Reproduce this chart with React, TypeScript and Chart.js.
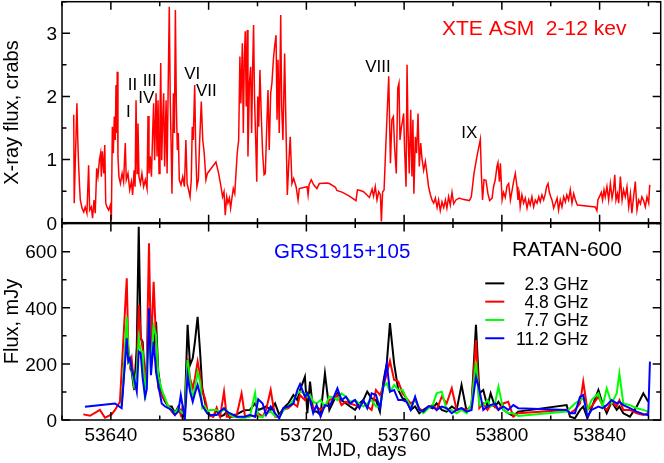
import React, { useEffect, useRef } from "react";
import { Chart, registerables } from "chart.js";

Chart.register(...registerables);

const FONT = "'Liberation Sans', Arial, Helvetica, sans-serif";

// ---------- axis ranges / ticks ----------
const mjdMin = 53620;
const mjdMax = 53865;
const mjdMinorStep = 10;
const mjdLabelStep = 40;
const xrayMax = 3.5;
const xrayStep = 0.5;
const xrayLabelStep = 1;
const radioMax = 700;
const radioStep = 100;
const radioLabelStep = 200;
const radioLabelMax = 600;

// ---------- XTE ASM 2-12 keV light curve (crabs) ----------
const xrayMjd = [
  53624.8, 53625.0, 53625.5, 53626.1, 53626.5, 53626.8, 53627.2, 53627.5, 53628.2, 53628.9,
  53629.5, 53630.2, 53630.9, 53631.3, 53632.0, 53632.5, 53633.1, 53633.6, 53634.2, 53634.7,
  53635.3, 53635.8, 53636.1, 53636.5, 53637.1, 53637.5, 53637.9, 53638.4, 53639.1, 53639.8,
  53640.2, 53640.6, 53641.0, 53641.4, 53641.8, 53642.1, 53642.4, 53642.6, 53642.9, 53643.3,
  53643.9, 53644.6, 53645.2, 53645.9, 53646.3, 53647.0, 53647.7, 53648.4, 53648.9, 53649.5,
  53649.9, 53650.3, 53650.7, 53651.1, 53651.5, 53652.1, 53652.7, 53653.4, 53654.1, 53654.8,
  53655.2, 53655.6, 53656.1, 53656.6, 53657.1, 53657.5, 53657.9, 53658.5, 53658.9, 53659.3,
  53659.7, 53660.1, 53660.4, 53660.8, 53661.2, 53661.6, 53662.0, 53662.6, 53663.0, 53663.4,
  53663.9, 53664.3, 53664.7, 53665.0, 53665.6, 53666.0, 53666.4, 53666.8, 53667.2, 53667.6,
  53668.0, 53668.7, 53669.4, 53670.1, 53670.7, 53671.2, 53671.8, 53672.4, 53672.9, 53673.3,
  53673.7, 53674.3, 53674.7, 53675.2, 53675.8, 53676.3, 53677.0, 53677.6, 53678.2, 53678.9,
  53679.5, 53683.0, 53684.1, 53685.2, 53685.7, 53686.3, 53686.8, 53687.4, 53687.9, 53688.5,
  53689.0, 53689.6, 53690.1, 53690.7, 53691.2, 53691.7, 53692.3, 53692.8, 53693.2, 53693.8,
  53694.2, 53694.6, 53695.0, 53695.4, 53695.8, 53696.1, 53696.7, 53697.2, 53697.6, 53698.0,
  53698.4, 53698.8, 53699.3, 53699.7, 53700.1, 53700.5, 53701.0, 53701.6, 53702.1, 53702.7,
  53703.2, 53703.8, 53704.3, 53704.8, 53705.4, 53705.9, 53706.5, 53707.0, 53707.6, 53708.0,
  53708.4, 53708.9, 53709.5, 53709.9, 53710.4, 53711.1, 53711.7, 53712.2, 53712.8, 53713.4,
  53714.1, 53714.8, 53715.8, 53716.6, 53717.1, 53720.3, 53720.7, 53721.1, 53722.0, 53723.0,
  53724.3, 53725.3, 53728.4, 53729.4, 53731.9, 53732.5, 53734.8, 53737.6, 53740.3, 53740.9,
  53742.1, 53743.4, 53744.8, 53745.8, 53746.9, 53747.5, 53748.2, 53748.9, 53749.6, 53750.3,
  53750.7, 53751.2, 53751.8, 53752.6, 53753.7, 53754.4, 53755.0, 53755.6, 53756.1, 53756.8,
  53757.4, 53757.9, 53758.3, 53758.9, 53759.3, 53759.8, 53760.2, 53760.8, 53761.2, 53761.6,
  53762.1, 53762.7, 53763.2, 53763.6, 53764.0, 53764.6, 53765.1, 53765.7, 53766.2, 53766.8,
  53767.3, 53768.0, 53768.7, 53769.4, 53770.0, 53770.7, 53771.4, 53772.1, 53772.8, 53773.5,
  53774.1, 53774.8, 53775.5, 53776.2, 53776.9, 53777.5, 53778.2, 53778.9, 53779.6, 53780.3,
  53781.2, 53782.6, 53784.0, 53786.7, 53787.5, 53788.6, 53789.8, 53791.2, 53791.6, 53792.1,
  53792.7, 53793.5, 53794.3, 53795.0, 53796.0, 53796.6, 53797.3, 53798.0, 53798.4, 53799.0,
  53799.4, 53800.1, 53800.7, 53801.4, 53802.1, 53802.8, 53803.5, 53804.8, 53805.5, 53806.2,
  53806.6, 53807.1, 53807.5, 53808.2, 53808.9, 53809.6, 53810.3, 53811.0, 53811.6, 53812.3,
  53813.0, 53813.7, 53814.4, 53815.1, 53815.7, 53816.4, 53817.1, 53817.8, 53818.3, 53818.9,
  53819.4, 53820.0, 53820.5, 53821.2, 53821.9, 53822.6, 53823.2, 53823.9, 53824.6, 53825.3,
  53826.0, 53826.6, 53827.3, 53828.0, 53828.7, 53829.4, 53830.1, 53830.9, 53838.2, 53838.9,
  53839.3, 53839.9, 53840.7, 53841.2, 53841.8, 53842.3, 53843.0, 53843.7, 53844.4, 53845.1,
  53845.7, 53846.2, 53846.7, 53847.3, 53847.8, 53848.5, 53849.2, 53849.8, 53850.5, 53851.2,
  53851.9, 53852.6, 53853.2, 53853.9, 53854.6, 53855.3, 53856.0, 53856.7, 53857.3, 53858.0,
  53858.7, 53859.4, 53860.1, 53860.5,
];
const xrayFlux = [
  1.71, 0.31, 1.05, 1.89, 1.26, 0.91, 0.57, 0.36, 0.23, 0.17,
  0.25, 0.15, 0.91, 0.20, 0.25, 0.07, 0.36, 0.15, 0.86, 0.73,
  0.99, 1.10, 0.73, 1.13, 0.78, 1.23, 0.31, 0.25, 0.20, 0.28,
  0.04, 1.52, 1.10, 1.68, 1.31, 2.18, 1.42, 2.39, 1.05, 0.73,
  0.62, 0.78, 0.65, 1.26, 0.68, 0.78, 0.52, 0.65, 0.44, 0.83,
  0.57, 1.94, 0.78, 1.57, 0.73, 0.62, 0.78, 0.57, 0.68, 0.54,
  1.69, 0.78, 1.05, 0.73, 1.42, 1.89, 0.99, 2.05, 1.05, 1.94,
  0.78, 1.68, 2.53, 0.99, 1.63, 2.05, 0.89, 1.94, 0.78, 2.00,
  3.42, 1.94, 1.15, 0.46, 2.05, 1.42, 3.37, 1.84, 1.15, 1.42,
  0.68, 0.60, 0.73, 0.57, 1.31, 0.62, 0.52, 0.41, 0.68, 1.52,
  1.31, 2.18, 1.20, 0.57, 0.68, 1.26, 1.92, 1.31, 1.10, 0.68,
  0.78, 0.96, 0.78, 0.54, 0.41, 0.49, 0.12, 0.41, 0.31, 0.39,
  0.23, 0.41, 0.54, 0.46, 0.78, 1.10, 1.31, 2.63, 1.89, 2.84,
  1.42, 2.58, 3.03, 1.84, 3.05, 1.05, 2.21, 2.47, 1.42, 2.42,
  3.13, 1.94, 1.26, 0.65, 2.00, 1.52, 2.42, 1.63, 1.10, 0.76,
  0.78, 1.52, 2.10, 1.15, 2.05, 2.21, 2.58, 2.79, 2.97, 1.63,
  2.58, 1.42, 3.29, 1.84, 1.31, 2.68, 1.42, 0.44, 0.94, 1.36,
  0.62, 0.70, 0.57, 0.36, 0.54, 0.57, 0.44, 0.60, 0.68, 0.60,
  0.54, 0.62, 0.63, 0.62, 0.56, 0.51, 0.48, 0.42, 0.35, 0.52,
  0.51, 0.49, 0.44, 0.40, 0.53, 0.42, 0.57, 0.36, 0.49, 0.44,
  0.02, 0.49, 0.52, 1.31, 2.32, 0.94, 1.63, 1.68, 1.20, 0.78,
  2.13, 2.21, 1.31, 1.52, 1.60, 1.73, 1.15, 0.57, 2.50, 1.47,
  0.78, 1.79, 0.73, 1.63, 0.46, 1.36, 1.10, 1.73, 0.89, 1.26,
  1.02, 0.83, 0.97, 0.76, 0.57, 0.45, 0.36, 0.31, 0.39, 0.24,
  0.36, 0.19, 0.33, 0.24, 0.36, 0.23, 0.41, 0.28, 0.48, 0.30,
  0.36, 0.39, 0.37, 0.35, 0.41, 0.78, 1.05, 1.32, 0.78, 0.36,
  0.68, 0.67, 0.46, 0.35, 0.39, 0.57, 0.68, 0.89, 0.95, 0.65,
  0.94, 0.36, 0.48, 0.40, 0.58, 0.62, 0.36, 0.65, 0.78, 0.57,
  0.36, 0.46, 0.25, 0.44, 0.31, 0.39, 0.23, 0.36, 0.28, 0.41,
  0.25, 0.36, 0.31, 0.41, 0.33, 0.44, 0.36, 0.46, 0.57, 0.62,
  0.49, 0.41, 0.36, 0.23, 0.31, 0.39, 0.20, 0.36, 0.25, 0.41,
  0.33, 0.44, 0.36, 0.52, 0.31, 0.46, 0.36, 0.28, 0.25, 0.19,
  0.36, 0.41, 0.48, 0.36, 0.52, 0.41, 0.57, 0.36, 0.62, 0.39,
  0.52, 0.76, 0.36, 0.46, 0.31, 0.73, 0.36, 0.52, 0.41, 0.57,
  0.25, 0.46, 0.15, 0.41, 0.65, 0.20, 0.36, 0.30, 0.41, 0.35,
  0.25, 0.41, 0.31, 0.60,
];

// ---------- RATAN-600 radio fluxes (mJy) ----------
const radioMjd = [
  53628.7, 53629.4, 53631.5, 53635.5, 53637.6, 53640.3, 53641.7, 53643.7, 53644.4, 53646.5,
  53647.1, 53647.8, 53648.5, 53649.5, 53650.6, 53651.4, 53652.2, 53653.0, 53654.0, 53654.7,
  53655.6, 53656.4, 53657.5, 53658.5, 53659.4, 53660.8, 53662.2, 53663.5, 53664.9, 53666.2,
  53667.6, 53668.6, 53669.4, 53670.3, 53671.4, 53672.4, 53673.5, 53674.4, 53675.5, 53676.5,
  53677.4, 53678.5, 53679.5, 53680.6, 53681.9, 53683.3, 53684.7, 53686.3, 53687.4, 53688.7,
  53690.1, 53691.5, 53693.5, 53694.9, 53696.9, 53699.0, 53700.3, 53702.1, 53703.5, 53705.4,
  53707.2, 53708.9, 53710.6, 53712.6, 53714.7, 53716.3, 53717.4, 53719.4, 53720.4, 53721.5,
  53722.8, 53724.2, 53725.8, 53727.6, 53729.4, 53731.0, 53732.7, 53734.4, 53736.2, 53737.9,
  53739.9, 53741.7, 53743.3, 53744.9, 53746.7, 53748.5, 53750.1, 53751.5, 53752.9, 53754.2,
  53755.9, 53757.6, 53759.4, 53761.0, 53762.7, 53764.5, 53766.2, 53767.9, 53769.9, 53771.7,
  53773.3, 53775.4, 53777.4, 53779.5, 53781.5, 53783.5, 53785.6, 53787.6, 53789.4, 53790.8,
  53792.4, 53794.1, 53795.4, 53797.2, 53798.6, 53800.6, 53802.6, 53804.7, 53806.7, 53826.5,
  53827.9, 53829.9, 53832.0, 53833.3, 53835.0, 53836.7, 53839.5, 53841.2, 53842.9, 53844.9,
  53847.0, 53848.1, 53849.7, 53852.4, 53855.2, 53857.9, 53859.9, 53860.6,
];
const flux2_3GHz = [
  null, null, null, null, null, null, null, null, 55, 300,
  220, 200, 172, 107, 260, 689, 291, 279, 137, 200,
  330, 244, 244, 350, 172, 89, 65, 48, 48, 24,
  48, 30, 6, 54, 339, 196, 220, 279, 368, 244,
  113, 65, 24, 18, 12, 36, 12, 18, 30, 8,
  18, 20, 30, 35, 36, 59, 36, 42, 48, 36,
  59, 18, 42, 59, 89, 71, 107, 154, 24, 137,
  30, 30, 18, 166, 36, 65, 95, 71, 59, 48,
  36, 59, 71, 101, 77, 71, 30, 137, 202, 345,
  202, 107, 77, 71, 36, 48, 24, 36, 48, 42,
  59, 36, 30, 48, 36, 125, 30, 53, 339, 95,
  107, 48, 95, 48, 65, 36, 24, 14, 30, 53,
  12, 6, 36, 48, 6, 42, 107, 59, 24, 65,
  36, 48, 24, 12, 48, 95, 65, null,
];
const flux4_8GHz = [
  20, null, 15, 36, 8, 20, 36, 65, null, 505,
  267, 196, 220, 125, 172, 410, 303, 255, 101, 220,
  630, 244, 493, 279, 113, 89, 71, 48, 30, 18,
  44, 18, 48, 30, 220, 149, 113, 149, 208, 160,
  101, 77, 36, 15, 12, 44, 12, 101, 12, 12,
  12, 18, 95, 12, 18, 12, 24, 12, 36, 107,
  12, 10, 36, 42, 59, 48, 89, 71, 95, 77,
  36, 48, 36, 48, 71, 77, 89, 53, 65, 59,
  53, 48, 65, 48, 36, 107, 89, 119, 166, 211,
  143, 137, 95, 77, 59, 71, 42, 30, 48, 53,
  36, 83, 59, 113, 36, 42, 36, 48, 285, 42,
  59, 36, 53, 48, 36, 59, 65, 12, 24, 36,
  24, 36, 59, 137, 36, 48, 83, 53, 36, 65,
  48, 71, 36, 36, 24, 18, 24, null,
];
const flux7_7GHz = [
  null, null, null, null, null, null, null, null, 50, 368,
  255, 196, 184, 125, 172, 291, 244, 244, 71, 172,
  386, 184, 333, 300, 160, 107, 77, 48, 36, 24,
  42, 30, 24, 30, 214, 137, 77, 113, 172, 137,
  42, 48, 30, 36, 36, 36, 30, 36, 36, 18,
  12, 10, 8, 8, 12, 97, 12, 12, 24, 30,
  14, 12, 36, 48, 71, 95, 101, 95, 83, 89,
  65, 59, 71, 48, 83, 81, 71, 95, 83, 65,
  71, 59, 48, 59, 71, 48, 48, 119, 131, 101,
  125, 107, 107, 77, 42, 77, 36, 24, 42, 53,
  95, 101, 36, 36, 24, 36, 24, 59, 208, 53,
  53, 71, 48, 59, 119, 36, 24, 24, 14, 30,
  42, 59, 71, 77, 36, 71, 95, 48, 113, 59,
  95, 166, 59, 53, 42, 36, 30, null,
];
const flux11_2GHz = [
  null, 47, null, null, null, null, 59, null, 42, 291,
  208, 220, 184, 149, 101, 244, 238, 150, 83, 110,
  398, 160, 279, 170, 125, 59, 48, 42, 36, 18,
  30, 89, 48, 8, 160, 101, 65, 95, 125, 89,
  53, 36, 24, 18, 18, 18, 30, 42, 30, 24,
  18, 12, 12, 12, 18, 12, 74, 59, 18, 48,
  24, 6, 42, 48, 59, 107, 128, 83, 95, 71,
  24, 53, 12, 53, 48, 77, 113, 71, 83, 59,
  71, 42, 71, 42, 95, 89, 42, 119, 200, 101,
  107, 71, 71, 65, 36, 83, 36, 30, 48, 48,
  36, 48, 42, 24, 36, 42, 30, 36, 154, 107,
  36, 48, 53, 59, 36, 48, 36, 53, 42, 36,
  24, 24, 83, 89, 12, 36, 48, 42, 53, 71,
  59, 65, 53, 42, 30, 21, 17, 208,
];

const radioLabels = ["2.3 GHz", "4.8 GHz", "7.7 GHz", "11.2 GHz"];
const radioColors = ["#000000", "#ff0000", "#00ff00", "#0000ff"];

// ---------- annotations (data coordinates) ----------
const burstNames = ["I", "II", "III", "IV", "VI", "VII", "VIII", "IX"];
const burstMjd = [53646.2, 53646.9, 53653.0, 53651.2, 53670.0, 53674.8, 53744.1, 53783.4];
const burstFlux = [1.68, 2.10, 2.17, 1.89, 2.27, 2.01, 2.39, 1.34];

type Note = { text: string; x: number; y: number; size: number; color: string; align?: CanvasTextAlign };

const TICK_FONT = `19px ${FONT}`;

function framePlugin(yLabelStep: number, yLabelMax: number, xLabels: boolean) {
  return {
    id: "frameTicks",
    afterDraw(chart: any) {
      const { ctx, chartArea: a, scales } = chart;
      const xs = scales.x;
      const ys = scales.y;
      ctx.save();
      ctx.strokeStyle = "#000";
      ctx.lineWidth = 1.5;
      ctx.beginPath();
      for (const t of xs.ticks) {
        const v = Math.round(t.value);
        if (v % mjdMinorStep !== 0) continue;
        const px = xs.getPixelForValue(v);
        const len = v % mjdLabelStep === 0 ? 8 : 4.5;
        ctx.moveTo(px, a.bottom);
        ctx.lineTo(px, a.bottom - len);
        ctx.moveTo(px, a.top);
        ctx.lineTo(px, a.top + len);
      }
      for (const t of ys.ticks) {
        const v = t.value;
        const py = ys.getPixelForValue(v);
        const r = v / yLabelStep;
        const len = Math.abs(r - Math.round(r)) < 1e-6 ? 8 : 4.5;
        ctx.moveTo(a.left, py);
        ctx.lineTo(a.left + len, py);
        ctx.moveTo(a.right, py);
        ctx.lineTo(a.right - len, py);
      }
      ctx.stroke();
      ctx.strokeRect(a.left, a.top, a.right - a.left, a.bottom - a.top);

      // tick labels
      ctx.fillStyle = "#000";
      ctx.font = TICK_FONT;
      ctx.textAlign = "right";
      ctx.textBaseline = "alphabetic";
      for (const t of ys.ticks) {
        const v = t.value;
        const r = v / yLabelStep;
        if (Math.abs(r - Math.round(r)) > 1e-6 || v > yLabelMax + 1e-6) continue;
        ctx.fillText(String(Math.round(v * 100) / 100), a.left - 5, ys.getPixelForValue(v) + 6.8);
      }
      if (xLabels) {
        ctx.textAlign = "center";
        for (const t of xs.ticks) {
          const v = Math.round(t.value);
          if (v % mjdLabelStep !== 0) continue;
          ctx.fillText(String(v), xs.getPixelForValue(v), a.bottom + 21);
        }
      }
      ctx.restore();
    },
  };
}

function notesPlugin(notes: Note[], yTitle: { text: string; cx: number; cy: number }, xTitle?: { text: string; cx: number; by: number }) {
  return {
    id: "notes",
    afterDraw(chart: any) {
      const { ctx, scales } = chart;
      ctx.save();
      for (const n of notes) {
        ctx.font = `${n.size}px ${FONT}`;
        ctx.fillStyle = n.color;
        ctx.textAlign = n.align || "left";
        ctx.textBaseline = "alphabetic";
        ctx.fillText(n.text, scales.x.getPixelForValue(n.x), scales.y.getPixelForValue(n.y));
      }
      ctx.fillStyle = "#000";
      ctx.font = `20px ${FONT}`;
      ctx.save();
      ctx.translate(yTitle.cx, yTitle.cy);
      ctx.rotate(-Math.PI / 2);
      ctx.textAlign = "center";
      ctx.textBaseline = "middle";
      ctx.fillText(yTitle.text, 0, 0);
      ctx.restore();
      if (xTitle) {
        ctx.font = `19px ${FONT}`;
        ctx.textAlign = "center";
        ctx.textBaseline = "alphabetic";
        ctx.fillText(xTitle.text, xTitle.cx, xTitle.by);
      }
      ctx.restore();
    },
  };
}

const legendPlugin = {
  id: "radioLegend",
  afterDraw(chart: any) {
    const { ctx, scales } = chart;
    const x0 = scales.x.getPixelForValue(53793.2);
    const x1 = scales.x.getPixelForValue(53801.0);
    const xr = scales.x.getPixelForValue(53835.5);
    const y0 = scales.y.getPixelForValue(487);
    ctx.save();
    ctx.font = `17.5px ${FONT}`;
    ctx.textAlign = "right";
    ctx.textBaseline = "alphabetic";
    chart.data.datasets.forEach((ds: any, i: number) => {
      const y = y0 + i * 18.3;
      ctx.strokeStyle = ds.borderColor;
      ctx.lineWidth = 2;
      ctx.beginPath();
      ctx.moveTo(x0, y);
      ctx.lineTo(x1, y);
      ctx.stroke();
      ctx.fillStyle = "#000";
      ctx.fillText(ds.label, xr, y + 6.5);
    });
    ctx.restore();
  },
};

const TOP_H = 240;
const BOT_TOP = 215;
const BOT_H = 248;

export default function App() {
  const topRef = useRef<HTMLCanvasElement>(null);
  const botRef = useRef<HTMLCanvasElement>(null);

  useEffect(() => {
    Chart.defaults.font.family = FONT;
    Chart.defaults.color = "#000";

    const topNotes: Note[] = burstNames.map((t, i) => ({
      text: t, x: burstMjd[i], y: burstFlux[i], size: 17, color: "#000",
    }));
    topNotes.push({ text: "XTE ASM  2-12 kev", x: 53775.5, y: 2.97, size: 21, color: "#ff0000" });

    const top = new Chart(topRef.current!, {
      type: "line",
      data: {
        datasets: [
          {
            label: "XTE ASM",
            data: xrayMjd.map((x, i) => ({ x, y: xrayFlux[i] })),
            borderColor: "#ff0000",
            borderWidth: 1.5,
            pointRadius: 0,
            tension: 0,
          },
        ],
      },
      options: {
        responsive: false,
        animation: false,
        layout: { autoPadding: false, padding: { left: 62, right: 3.3, top: 1.7, bottom: TOP_H - 222.7 } },
        plugins: { legend: { display: false }, tooltip: { enabled: false } },
        scales: {
          x: {
            type: "linear", min: mjdMin, max: mjdMax, display: false,
            ticks: { stepSize: mjdMinorStep, includeBounds: false },
          },
          y: {
            min: 0, max: xrayMax, display: false,
            ticks: { stepSize: xrayStep, includeBounds: false },
          },
        },
      },
      plugins: [
        framePlugin(xrayLabelStep, xrayMax, false),
        notesPlugin(topNotes, { text: "X-ray flux, crabs", cx: 12, cy: 112.5 }),
      ],
    } as any);

    const radioSeries = [flux2_3GHz, flux4_8GHz, flux7_7GHz, flux11_2GHz];
    const botNotes: Note[] = [
      { text: "GRS1915+105", x: 53706.8, y: 577, size: 20.5, color: "#0000ff" },
      { text: "RATAN-600", x: 53804.1, y: 584, size: 21, color: "#000" },
    ];

    const bot = new Chart(botRef.current!, {
      type: "line",
      data: {
        datasets: radioSeries.map((arr, k) => ({
          label: radioLabels[k],
          data: radioMjd.map((x, i) => ({ x, y: arr[i] })),
          borderColor: radioColors[k],
          borderWidth: 2,
          pointRadius: 0,
          tension: 0,
          spanGaps: true,
          order: 4 - k,
        })),
      },
      options: {
        responsive: false,
        animation: false,
        layout: { autoPadding: false, padding: { left: 62, right: 3.3, top: 223.6 - BOT_TOP, bottom: BOT_TOP + BOT_H - 420 } },
        plugins: { legend: { display: false }, tooltip: { enabled: false } },
        scales: {
          x: {
            type: "linear", min: mjdMin, max: mjdMax, display: false,
            ticks: { stepSize: mjdMinorStep, includeBounds: false },
          },
          y: {
            min: 0, max: radioMax, display: false,
            ticks: { stepSize: radioStep, includeBounds: false },
          },
        },
      },
      plugins: [
        framePlugin(radioLabelStep, radioLabelMax, true),
        notesPlugin(botNotes, { text: "Flux, mJy", cx: 12, cy: 321.5 - BOT_TOP }, { text: "MJD, days", cx: 361.7, by: 456 - BOT_TOP }),
        legendPlugin,
      ],
    } as any);

    return () => {
      top.destroy();
      bot.destroy();
    };
  }, []);

  return (
    <div style={{ position: "absolute", left: 0, top: 0, width: 664, height: 463, background: "#fff", overflow: "hidden" }}>
      <canvas ref={topRef} width={664} height={TOP_H} style={{ position: "absolute", left: 0, top: 0, width: 664, height: TOP_H }} />
      <canvas ref={botRef} width={664} height={BOT_H} style={{ position: "absolute", left: 0, top: BOT_TOP, width: 664, height: BOT_H }} />
    </div>
  );
}
